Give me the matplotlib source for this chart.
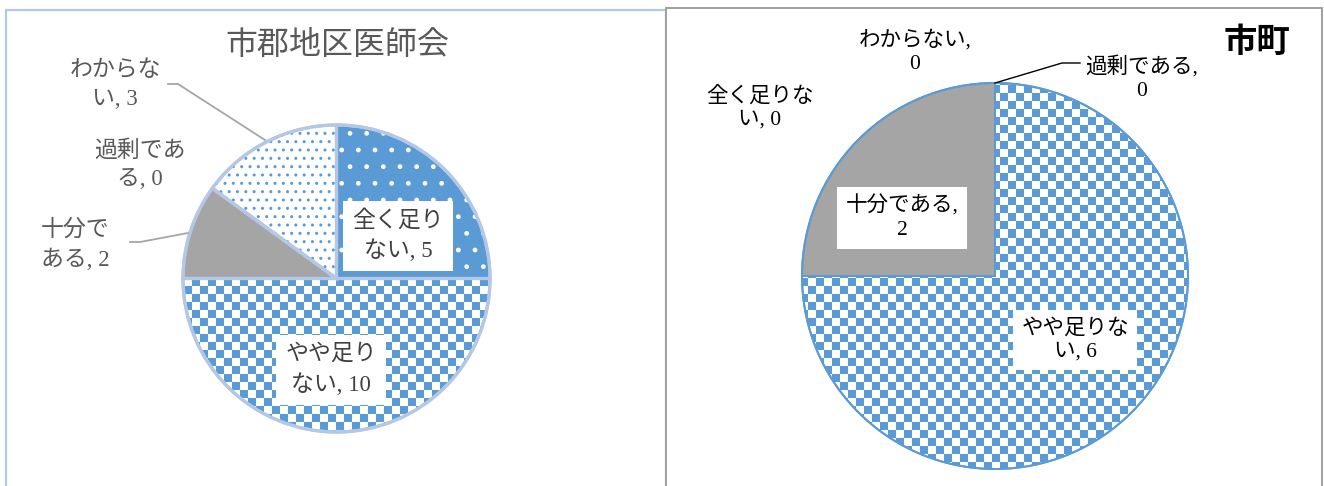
import numpy as np
import matplotlib
matplotlib.use("Agg")
import matplotlib.pyplot as plt
import matplotlib.patches as mpatches
from matplotlib.colors import ListedColormap

plt.rcParams['font.family'] = ['Noto Sans CJK JP', 'DejaVu Sans']
plt.rcParams['hatch.linewidth'] = 1.0

# data
categories = ['全く足りない', 'やや足りない', '十分である', '過剰である', 'わからない']
district_values = [5, 10, 2, 0, 3]
city_values = [0, 6, 2, 0, 0]
district_title = '市郡地区医師会'
city_title = '市町'

BLUE = '#5B9BD5'
LIGHT = '#B4C7E7'
GRAY = '#A5A5A5'
LABEL_FONT = ['Liberation Serif', 'Noto Sans CJK JP']

W, H = 1324, 486
fig = plt.figure(figsize=(W / 100, H / 100), dpi=100)
ax = fig.add_axes([0, 0, 1, 1])

# checkerboard image used as fill for the "やや足りない" slices
cell = 8
rows, cols = H // cell + 2, W // cell + 2
checker = np.indices((rows, cols)).sum(axis=0) % 2
checker_cmap = ListedColormap(['white', BLUE])


def draw_pie(values, center, radius, edge, lw, sep_color):
    wedges, _ = ax.pie(values, center=center, radius=radius, startangle=90,
                       counterclock=False, normalize=True)
    styles = [
        dict(fc=BLUE, hatch_c='white', hatch='.'),    # 全く足りない
        dict(fc='none', checker=True),               # やや足りない
        dict(fc=GRAY),                               # 十分である
        dict(fc='white'),                            # 過剰である
        dict(fc='white', hatch_c=BLUE, hatch='..'),   # わからない
    ]
    for w, st in zip(wedges, styles):
        w.set_facecolor(st['fc'])
        w.set_linewidth(0)
        if 'hatch' in st:
            w.set_edgecolor(st['hatch_c'])
            w.set_hatch(st['hatch'])
        if st.get('checker'):
            im = ax.imshow(checker, cmap=checker_cmap, interpolation='nearest',
                           extent=(0, cols * cell, 0, rows * cell), zorder=1.5,
                           origin='lower', vmin=0, vmax=1)
            im.set_clip_path(w)
        # outline drawn separately so hatch colour can differ
        ax.add_patch(mpatches.Wedge(w.center, w.r, w.theta1, w.theta2,
                                    fill=False, ec=sep_color, lw=lw, zorder=3))
    ax.add_patch(mpatches.Circle(center, radius, fill=False, ec=edge, lw=lw, zorder=3.5))


# panel frames
ax.add_patch(mpatches.Rectangle((6, -10), 660, H - 5 + 10 - 6 + 1, fill=False,
                                ec=LIGHT, lw=1.6, zorder=0.5))
ax.add_patch(mpatches.Rectangle((666, -10), 656, H - 8 + 10, fill=False,
                                ec='#A0A0A0', lw=1.4, zorder=0.6))
ax.add_patch(mpatches.Rectangle((667, -10), 654, H - 8 + 9, fc='white',
                                ec='none', zorder=0.55))

# left pie: 市郡地区医師会
draw_pie(district_values, (336.5, 207.5), 153.5, LIGHT, 2.3, LIGHT)
ax.text(337, 441, district_title, ha='center', va='center', fontsize=23,
        color='#595959')

box = dict(boxstyle='square,pad=0.4', fc='white', ec='none')
lbl = dict(ha='center', va='center', fontsize=16.5, family=LABEL_FONT,
           linespacing=1.45, zorder=5)

ax.text(398, 250, f'{categories[0][:4]}\n{categories[0][4:]}, {district_values[0]}',
        color='#404040', bbox=box, **lbl)
ax.text(331, 116, f'{categories[1][:4]}\n{categories[1][4:]}, {district_values[1]}',
        color='#404040', bbox=box, **lbl)
ax.text(75, 241, f'{categories[2][:3]}\n{categories[2][3:]}, {district_values[2]}',
        color='#595959', **lbl)
ax.text(140, 321, f'{categories[3][:4]}\n{categories[3][4:]}, {district_values[3]}',
        color='#595959', **lbl)
ax.text(115, 401, f'{categories[4][:4]}\n{categories[4][4:]}, {district_values[4]}',
        color='#595959', **lbl)
ax.plot([130, 140, 188], [244, 244, 253], color='#A6A6A6', lw=1.3, zorder=4)
ax.plot([168, 178, 265], [402, 402, 346], color='#A6A6A6', lw=1.3, zorder=4)

# right pie: 市町
draw_pie(city_values, (995, 210), 193, BLUE, 1.4, BLUE)
ax.text(1257, 444, city_title, ha='center', va='center', fontsize=24,
        fontweight='bold', color='black')

lbl_r = dict(lbl, fontsize=15.5, linespacing=1.3)
ax.text(915, 434, f'{categories[4]},\n{city_values[4]}', color='black', **lbl_r)
ax.text(1142, 408, f'{categories[3]},\n{city_values[3]}', color='black', **lbl_r)
ax.text(760, 378, f'{categories[0][:5]}\n{categories[0][5:]}, {city_values[0]}',
        color='black', **lbl_r)
ax.text(902, 268, f'{categories[2]},\n{city_values[2]}', color='black', bbox=box, **lbl_r)
ax.text(1075, 146, f'{categories[1][:5]}\n{categories[1][5:]}, {city_values[1]}',
        color='black', bbox=box, **lbl_r)
ax.plot([1080, 1062, 995], [423, 423, 403], color='black', lw=1.0, zorder=4)

ax.set_xlim(0, W)
ax.set_ylim(0, H)
ax.set_aspect('auto')
ax.axis('off')
fig.savefig('out.png', dpi=100)
